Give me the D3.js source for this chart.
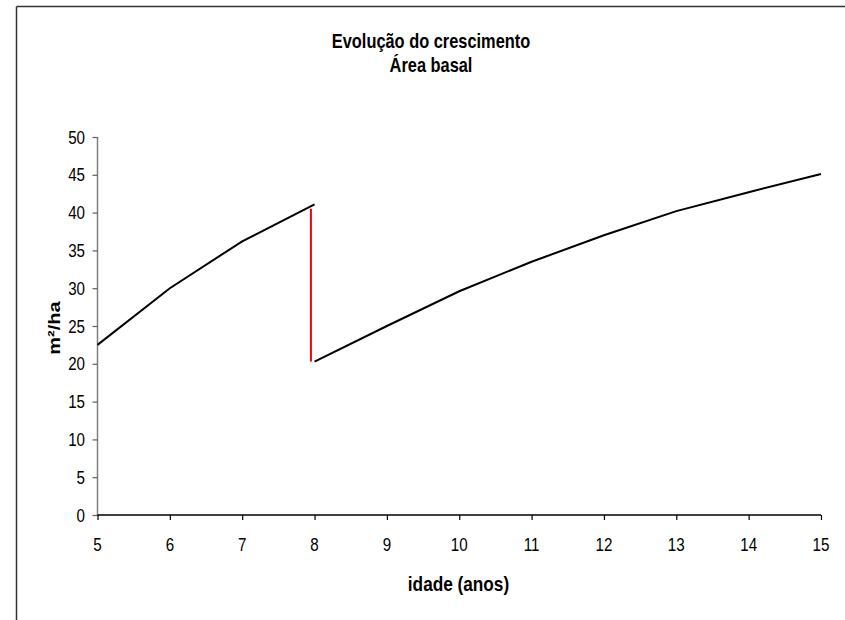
<!DOCTYPE html>
<html>
<head>
<meta charset="utf-8">
<script src="https://cdn.jsdelivr.net/npm/d3@7/dist/d3.min.js"></script>
<style>
  html, body { margin: 0; padding: 0; background: #fff; }
  svg { display: block; }
  text { font-family: "Liberation Sans", Arial, sans-serif; fill: #000; }
</style>
</head>
<body>
<svg id="chart" width="845" height="620"></svg>
<script>
// ---- data ----
const idadeAntes = [5, 6, 7, 8];
const areaAntes = [22.5, 30, 36.2, 41.1];
const idadeDesbaste = [7.95, 7.95];
const areaDesbaste = [40.5, 20.3];
const idadeDepois = [8, 9, 10, 11, 12, 13, 14, 15];
const areaDepois = [20.3, 25, 29.6, 33.5, 37, 40.2, 42.7, 45.1];
const xTicks = [5, 6, 7, 8, 9, 10, 11, 12, 13, 14, 15];
const yTicks = [0, 5, 10, 15, 20, 25, 30, 35, 40, 45, 50];
const titleLines = ["Evolução do crescimento", "Área basal"];
const xTitle = "idade (anos)";
const yTitle = "m²/ha";

const svg = d3.select("#chart");
const W = 845, H = 620;
const plot = { left: 97.5, right: 821, top: 137, bottom: 515 };
const SX = 0.82; // horizontal text compression

// frame
svg.append("line").attr("x1", 16.5).attr("x2", W).attr("y1", 6.5).attr("y2", 6.5)
  .attr("stroke", "#333").attr("stroke-width", 1.5);
svg.append("line").attr("x1", 16.5).attr("x2", 16.5).attr("y1", 6.5).attr("y2", H)
  .attr("stroke", "#333").attr("stroke-width", 1.5);

const x = d3.scaleLinear().domain([5, 15]).range([plot.left, plot.right]);
const y = d3.scaleLinear().domain([0, 50]).range([plot.bottom, plot.top]);

function txt(g, s, px, py, opts) {
  return g.append("text")
    .attr("transform", `translate(${px},${py}) scale(${SX},1)` + (opts.rot ? ` rotate(${opts.rot})` : ""))
    .attr("text-anchor", opts.anchor || "middle")
    .style("font-size", opts.size + "px")
    .style("font-weight", opts.bold ? "bold" : "normal")
    .text(s);
}

// title
titleLines.forEach((s, i) => txt(svg, s, 431, 48 + i * 24, { size: 20, bold: true }));

// y axis
const yAxis = svg.append("g").attr("transform", `translate(${plot.left},0)`)
  .call(d3.axisLeft(y).tickValues(yTicks).tickSize(5).tickFormat(""));
yAxis.select(".domain").attr("stroke", "#808080").attr("stroke-width", 1.5)
  .attr("d", `M0,${plot.top}V${plot.bottom}`);
yAxis.selectAll(".tick line").attr("stroke", "#606060").attr("stroke-width", 1.2);
yTicks.forEach(v => txt(svg, String(v), 85, y(v) + 6.6, { size: 18.5, anchor: "end" }));

// x axis
const xAxis = svg.append("g").attr("transform", `translate(0,${plot.bottom})`)
  .call(d3.axisBottom(x).tickValues(xTicks).tickSize(5).tickFormat(""));
xAxis.select(".domain").attr("stroke", "#000").attr("stroke-width", 1.5)
  .attr("d", `M${plot.left},0H${plot.right}`);
xAxis.selectAll(".tick line").attr("stroke", "#000").attr("stroke-width", 1.2);
xTicks.forEach(v => txt(svg, String(v), x(v), 550.5, { size: 18.5 }));

// axis titles
txt(svg, xTitle, 458.5, 591, { size: 21, bold: true });
txt(svg, yTitle, 60, 328, { size: 20, bold: true, rot: -90 });

// lines
const line = d3.line().x(d => x(d[0])).y(d => y(d[1]));
svg.append("path").datum(d3.zip(idadeAntes, areaAntes))
  .attr("d", line).attr("fill", "none").attr("stroke", "#000").attr("stroke-width", 2);
svg.append("path").datum(d3.zip(idadeDesbaste, areaDesbaste))
  .attr("d", line).attr("fill", "none").attr("stroke", "#ff0000").attr("stroke-width", 2);
svg.append("path").datum(d3.zip(idadeDepois, areaDepois))
  .attr("d", line).attr("fill", "none").attr("stroke", "#000").attr("stroke-width", 2);
</script>
</body>
</html>
